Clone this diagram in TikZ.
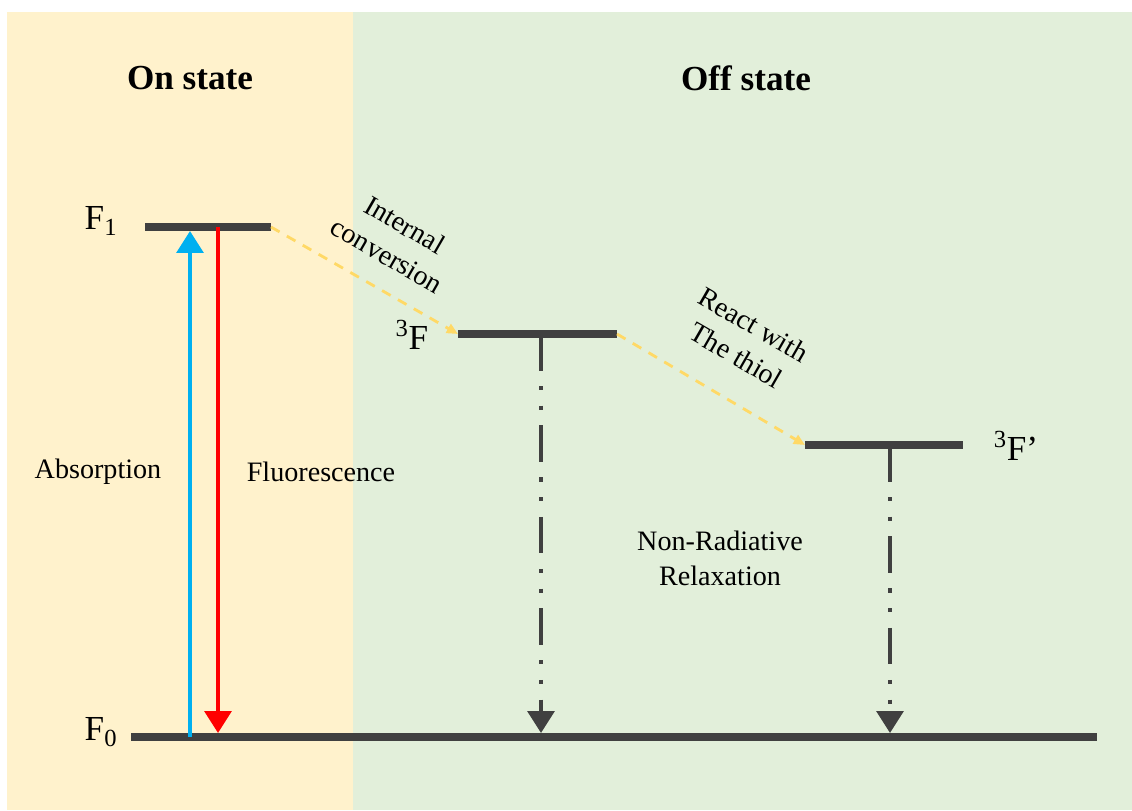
\documentclass[tikz,border=0pt]{standalone}
\usepackage{fontspec}
\setmainfont{Liberation Serif}
\usetikzlibrary{arrows.meta, positioning}
\definecolor{onbg}{HTML}{FFF2CC}
\definecolor{offbg}{HTML}{E2EFDA}
\definecolor{levelgray}{HTML}{404040}
\definecolor{absblue}{HTML}{00B0F0}
\definecolor{icgold}{HTML}{FFD966}
\tikzset{level/.style={draw=levelgray,line width=5.6pt},lab/.style={font=\fontsize{20}{25}\selectfont,align=center,inner sep=1pt},levellab/.style={font=\fontsize{25}{30}\selectfont,inner sep=1pt},title/.style={font=\fontsize{25}{30}\selectfont\bfseries},up/.style={draw=absblue,line width=2.8pt,-{Triangle[length=15.6pt,width=19pt]}},down/.style={draw=red,line width=2.8pt,-{Triangle[length=15.6pt,width=19pt]}},conv/.style={draw=icgold,line width=2pt,dash pattern=on 7pt off 6pt,-{Triangle[length=8pt,width=7pt]}},relax/.style={draw=levelgray,line width=2.8pt,dash pattern=on 26pt off 11pt on 3pt off 11pt on 3pt off 11pt,-{Triangle[length=15.6pt,width=19pt]}}}

\begin{document}
\begin{tikzpicture}[x=0.025cm, y=-0.025cm]
\useasboundingbox (0,0) rectangle (1132,810);
% backgrounds
\fill[onbg] (7,12) rectangle (353,810);
\fill[offbg] (353,12) rectangle (1132,810);
\node[title] (on) at (190,78) {On state};
\node[title] (off) at (746,78) {Off state};
% levels
\coordinate (f1l) at (145,227);
\coordinate (f1r) at (271,227);
\coordinate (f0l) at (131,737);
\coordinate (f0r) at (1097,737);
\coordinate (tl) at (458,334);
\coordinate (tr) at (617,334);
\coordinate (tpl) at (805,445);
\coordinate (tpr) at (963,445);
\draw[level] (f1l) -- (f1r);
\draw[level] (f0l) -- (f0r);
\draw[level] (tl) -- (tr);
\draw[level] (tpl) -- (tpr);
\node[levellab] (f1) at (101,221) {F\textsubscript{1}};
\node[levellab] (f0) at (101,732) {F\textsubscript{0}};
\node[levellab] (t) at (412,335) {\textsuperscript{3}F};
\node[levellab] (tp) at (1016,446) {\textsuperscript{3}F’};
% absorption / fluorescence
\coordinate (absbot) at (190,737);
\coordinate (abstop) at (190,231);
\coordinate (fltop) at (218,227);
\coordinate (flbot) at (218,733);
\draw[up] (absbot) -- (abstop);
\draw[down] (fltop) -- (flbot);
\node[lab] (abs) at (98,472) {Absorption};
\node[lab] (fl) at (321,472) {Fluorescence};
% conversions
\draw[conv] (f1r) -- (tl);
\draw[conv] (tr) -- (tpl);
\node[lab, rotate=-30] (ic) at (396,240) {Internal\\conversion};
\node[lab, rotate=-30] (thiol) at (745,340) {React with\\The thiol};
% relaxation
\coordinate (nr1top) at (541,334);
\coordinate (nr1bot) at (541,733);
\coordinate (nr2top) at (890,445);
\coordinate (nr2bot) at (890,733);
\draw[relax] (nr1top) -- (nr1bot);
\draw[relax] (nr2top) -- (nr2bot);
\node[lab] (nr) at (720,558) {Non-Radiative\\Relaxation};
\end{tikzpicture}
\end{document}
